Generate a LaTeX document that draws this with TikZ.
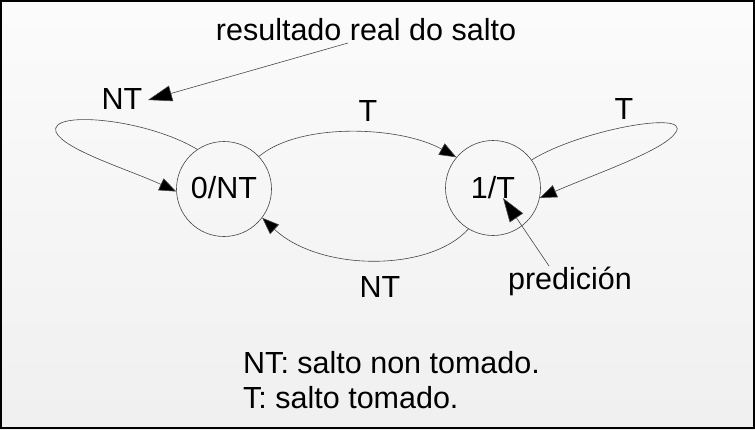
\documentclass[tikz,border=0pt]{standalone}
\usepackage{fontspec}
\setmainfont{Liberation Sans}
\usetikzlibrary{arrows.meta}
\definecolor{linec}{RGB}{70,70,70}
\tikzset{
  lbl/.style={inner sep=0pt, anchor=base, font=\fontsize{30.5}{36}\selectfont},
  state/.style={circle, draw=linec, line width=0.6pt, minimum size=95pt, inner sep=0pt},
  conn/.style={draw=linec, line width=0.6pt, -{Triangle[length=17pt,width=13pt,fill=black]}},
  note/.style={draw=linec, line width=0.6pt, -{Triangle[length=24pt,width=16pt,fill=black]}},
}
\begin{document}
\begin{tikzpicture}[x=1pt,y=-1pt]
\useasboundingbox (0,0) rectangle (755,429);
\shade[top color=white!97!gray, bottom color=white!88!gray] (0,0) rectangle (755,429);
\draw[black, line width=2pt] (1,1) rectangle (754,428);

\node[state] (a) at (224,189) {};
\node[state] (b) at (493,188) {};
\node[lbl] (la) at (224,198) {0/NT};
\node[lbl] (lb) at (493,198) {1/T};

\node[lbl] (res) at (366,40) {resultado real do salto};
\node[lbl] (nt1) at (122,109) {NT};
\node[lbl] (t1) at (368,121) {T};
\node[lbl] (t2) at (624,119) {T};
\node[lbl] (nt2) at (380,297) {NT};
\node[lbl] (pred) at (570,289) {predición};
\node[lbl, anchor=base west] (leg1) at (243,373) {NT: salto non tomado.};
\node[lbl, anchor=base west] (leg2) at (243,408) {T: salto tomado.};

\coordinate (rs) at (348,43);
\coordinate (rt) at (148,100);
\coordinate (ps) at (549,266);
\coordinate (pt) at (503,198);

\draw[note] (rs) -- (rt);
\draw[note] (ps) -- (pt);

\draw[conn] (a.124) .. controls (145,118) and (48,110) .. (56,132)
            .. controls (64,150) and (130,170) .. (a.183);
\draw[conn] (b.36) .. controls (580,130) and (690,110) .. (676,132)
            .. controls (665,150) and (600,172) .. (b.-12);
\draw[conn] (a.43) .. controls (300,122) and (400,126) .. (b.140);
\draw[conn] (b.-121) .. controls (430,272) and (320,272) .. (a.-37);
\end{tikzpicture}
\end{document}
